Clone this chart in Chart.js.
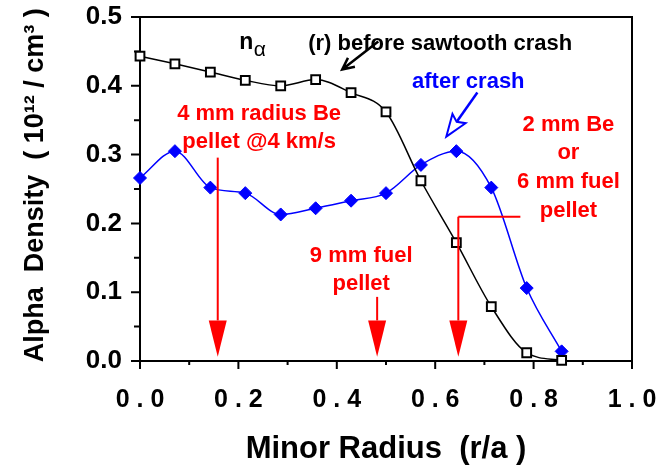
<!DOCTYPE html>
<html>
<head>
<meta charset="utf-8">
<script src="https://cdn.jsdelivr.net/npm/chart.js@4.4.1/dist/chart.umd.min.js"></script>
<style>
  body { margin: 0; background: #fff; }
  #wrap { width: 658px; height: 469px; }
</style>
</head>
<body>
<div id="wrap"><canvas id="chart" width="658" height="469"></canvas></div>
<script>
// r/a positions of the profile points
const radius = [0, 0.071, 0.143, 0.214, 0.286, 0.357, 0.429, 0.5, 0.571, 0.643, 0.714, 0.786, 0.857];
// alpha density (1e12 / cm^3)
const beforeCrash = [0.443, 0.432, 0.420, 0.408, 0.400, 0.409, 0.390, 0.362, 0.262, 0.172, 0.079, 0.012, 0.001];
const afterCrash = [0.266, 0.305, 0.252, 0.244, 0.213, 0.222, 0.233, 0.244, 0.285, 0.305, 0.252, 0.106, 0.014];
// pellet penetration depths (r/a)
const pelletR = [0.158, 0.482, 0.647];

const xMajor = [0, 0.2, 0.4, 0.6, 0.8, 1.0];
const xMinor = [0.1, 0.3, 0.5, 0.7, 0.9];
const yMajor = [0, 0.1, 0.2, 0.3, 0.4, 0.5];
const yMinor = [0.05, 0.15, 0.25, 0.35, 0.45];

const FONT = "'Liberation Sans', Arial, sans-serif";
const RED = '#ff0000';
const BLUE = '#0000ff';

function text(ctx, s, x, y, color, align, size, weight) {
  ctx.save();
  ctx.font = (weight || 'bold') + ' ' + (size || 22) + 'px ' + FONT;
  ctx.fillStyle = color;
  ctx.textAlign = align || 'center';
  ctx.textBaseline = 'alphabetic';
  ctx.fillText(s, x, y);
  ctx.restore();
}

const frame = {
  id: 'frame',
  beforeDatasetsDraw(chart) {
    const { ctx, chartArea: a, scales: { x, y } } = chart;
    ctx.save();
    ctx.strokeStyle = '#000';
    ctx.lineWidth = 2;
    ctx.strokeRect(a.left, a.top, a.right - a.left, a.bottom - a.top);
    ctx.beginPath();
    xMajor.forEach(v => { const px = x.getPixelForValue(v); ctx.moveTo(px, a.bottom); ctx.lineTo(px, a.bottom + 8); });
    xMinor.forEach(v => { const px = x.getPixelForValue(v); ctx.moveTo(px, a.bottom); ctx.lineTo(px, a.bottom + 4); });
    yMajor.forEach(v => { const py = y.getPixelForValue(v); ctx.moveTo(a.left, py); ctx.lineTo(a.left - 9, py); });
    yMinor.forEach(v => { const py = y.getPixelForValue(v); ctx.moveTo(a.left, py); ctx.lineTo(a.left - 6, py); });
    ctx.stroke();
    ctx.restore();
  }
};

const notes = {
  id: 'notes',
  afterDatasetsDraw(chart) {
    const { ctx, scales: { x, y } } = chart;
    const X = v => x.getPixelForValue(v);
    const Y = v => y.getPixelForValue(v);

    // n_alpha label and black arrow
    text(ctx, 'n', X(0.2015), Y(0.454), '#000', 'left', 23);
    text(ctx, '\u03b1', X(0.231), Y(0.443), '#000', 'left', 21, 'normal');
    text(ctx, '(r) before sawtooth crash', X(0.3418), Y(0.4514), '#000', 'left', 22);

    ctx.save();
    ctx.lineWidth = 2.5;
    ctx.strokeStyle = '#000';
    let tx = X(0.411), ty = Y(0.4237), sx = X(0.4843), sy = Y(0.4645);
    let ang = Math.atan2(ty - sy, tx - sx);
    ctx.beginPath();
    ctx.moveTo(sx, sy); ctx.lineTo(tx, ty);
    ctx.moveTo(tx - 13 * Math.cos(ang - 0.45), ty - 13 * Math.sin(ang - 0.45));
    ctx.lineTo(tx, ty);
    ctx.lineTo(tx - 13 * Math.cos(ang + 0.45), ty - 13 * Math.sin(ang + 0.45));
    ctx.stroke();

    // after crash label and blue hollow arrow
    text(ctx, 'after crash', X(0.6673), Y(0.3975), BLUE, 'center', 22);
    ctx.strokeStyle = BLUE;
    tx = X(0.6226); ty = Y(0.3262); sx = X(0.6857); sy = Y(0.3902);
    ang = Math.atan2(ty - sy, tx - sx);
    const hl = 22, hw = 8;
    const bx = tx - hl * Math.cos(ang), by = ty - hl * Math.sin(ang);
    ctx.beginPath();
    ctx.moveTo(sx, sy); ctx.lineTo(bx + 3 * Math.cos(ang), by + 3 * Math.sin(ang));
    ctx.stroke();
    ctx.lineWidth = 2;
    ctx.beginPath();
    ctx.moveTo(tx, ty);
    ctx.lineTo(bx + hw * Math.sin(ang), by - hw * Math.cos(ang));
    ctx.lineTo(bx + 4 * Math.cos(ang), by + 4 * Math.sin(ang));
    ctx.lineTo(bx - hw * Math.sin(ang), by + hw * Math.cos(ang));
    ctx.closePath();
    ctx.stroke();

    // pellet arrows
    const tops = [0.2956, 0.0932, 0.2097];
    ctx.strokeStyle = RED;
    ctx.fillStyle = RED;
    ctx.lineWidth = 2;
    pelletR.forEach((r, i) => {
      const px = X(r), top = Y(tops[i]), base = Y(0.059), tip = Y(0.006);
      ctx.beginPath();
      ctx.moveTo(px, top); ctx.lineTo(px, base);
      if (i === 2) { ctx.moveTo(px, top); ctx.lineTo(X(0.7731), top); }
      ctx.stroke();
      ctx.beginPath();
      ctx.moveTo(px - 9, base); ctx.lineTo(px + 9, base); ctx.lineTo(px, tip);
      ctx.closePath();
      ctx.fill();
    });
    ctx.restore();

    text(ctx, '4 mm radius Be', X(0.2421), Y(0.3509), RED);
    text(ctx, 'pellet @4 km/s', X(0.2421), Y(0.3101), RED);
    text(ctx, '9 mm fuel', X(0.4496), Y(0.1441), RED);
    text(ctx, 'pellet', X(0.4496), Y(0.1034), RED);
    text(ctx, '2 mm Be', X(0.8708), Y(0.3349), RED);
    text(ctx, 'or', X(0.8708), Y(0.2941), RED);
    text(ctx, '6 mm fuel', X(0.8708), Y(0.2519), RED);
    text(ctx, 'pellet', X(0.8708), Y(0.2097), RED);
  }
};

const pts = vals => radius.map((r, i) => ({ x: r, y: vals[i] }));

new Chart(document.getElementById('chart'), {
  type: 'line',
  data: {
    datasets: [
      {
        label: 'before sawtooth crash',
        data: pts(beforeCrash),
        borderColor: '#000',
        borderWidth: 1.5,
        cubicInterpolationMode: 'monotone',
        pointStyle: 'rect',
        pointRadius: 6.2,
        pointBorderWidth: 2,
        pointBackgroundColor: '#fff',
        pointBorderColor: '#000',
        clip: false
      },
      {
        label: 'after crash',
        data: pts(afterCrash),
        borderColor: BLUE,
        borderWidth: 1.5,
        cubicInterpolationMode: 'monotone',
        pointStyle: 'rectRot',
        pointRadius: 6.5,
        pointBorderWidth: 1,
        pointBackgroundColor: BLUE,
        pointBorderColor: BLUE,
        clip: false
      }
    ]
  },
  options: {
    responsive: false,
    animation: false,
    events: [],
    layout: { padding: { left: 0, top: 17, right: 26, bottom: 0 } },
    plugins: { legend: { display: false }, tooltip: { enabled: false } },
    scales: {
      x: {
        type: 'linear',
        min: 0,
        max: 1,
        grid: { display: false, drawTicks: false },
        border: { display: false },
        ticks: {
          stepSize: 0.2,
          padding: 24,
          color: '#000',
          font: { family: FONT, size: 25, weight: 'bold' },
          callback: v => v.toFixed(1).split('').join(' ')
        },
        title: {
          display: true,
          text: 'Minor Radius  (r/a )',
          color: '#000',
          font: { family: FONT, size: 31, weight: 'bold' },
          padding: { top: 0, bottom: 1 }
        },
        afterFit: s => { s.height = 108; s.paddingLeft = 0; s.paddingRight = 0; }
      },
      y: {
        min: 0,
        max: 0.5,
        grid: { display: false, drawTicks: false },
        border: { display: false },
        ticks: {
          stepSize: 0.1,
          padding: 18,
          color: '#000',
          font: { family: FONT, size: 26, weight: 'bold' },
          callback: v => v.toFixed(1)
        },
        title: {
          display: true,
          text: ' Alpha  Density  ( 10\u00b9\u00b2 / cm\u00b3 )',
          color: '#000',
          font: { family: FONT, size: 27, weight: 'bold' },
          padding: { top: 19, bottom: 0 }
        },
        afterFit: s => { s.width = 140; s.paddingTop = 0; s.paddingBottom = 0; }
      }
    }
  },
  plugins: [frame, notes]
});
</script>
</body>
</html>
